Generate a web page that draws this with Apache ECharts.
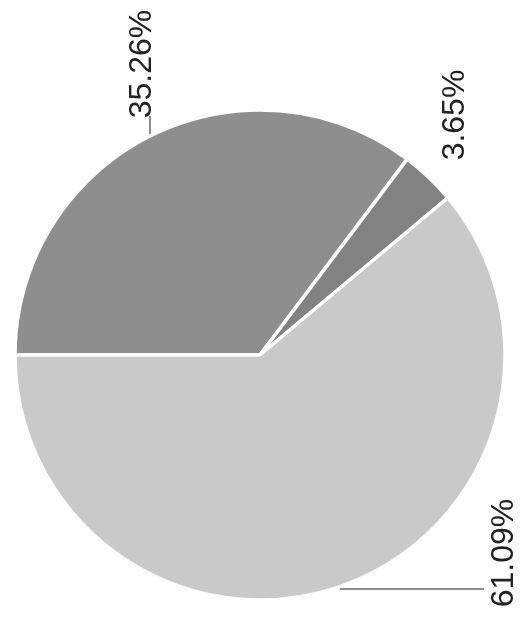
<!DOCTYPE html>
<html>
<head>
<meta charset="utf-8">
<script src="https://cdn.jsdelivr.net/npm/echarts@6/dist/echarts.min.js"></script>
<style>
  html, body { margin: 0; padding: 0; background: #fff; }
  #chart { width: 523px; height: 625px; }
</style>
</head>
<body>
<div id="chart"></div>
<script>
const names = ['A', 'B', 'C'];
const values = [35.26, 3.65, 61.09];
const colors = ['#8e8e8e', '#828282', '#c9c9c9'];

// where each rotated label sits, and its leader line
const labelSpots = [
    { x: 142, y: 64, line: [[150, 136], [150, 125], [150, 116]] },
    { x: 455, y: 115, line: null },
    { x: 504, y: 553, line: [[340, 589], [420, 589], [484, 589]] }
];

const myChart = echarts.init(document.getElementById('chart'));

const option = {
    animation: false,
    series: [
        {
            type: 'pie',
            center: [260, 355],
            radius: 245,
            startAngle: 180,
            clockwise: true,
            data: values.map((v, i) => ({
                name: names[i],
                value: v,
                itemStyle: { color: colors[i] },
                labelLine: { show: labelSpots[i].line !== null }
            })),
            itemStyle: {
                borderColor: '#fff',
                borderWidth: 3.5
            },
            label: {
                show: true,
                position: 'outside',
                rotate: 90,
                formatter: (p) => p.value.toFixed(2) + '%',
                color: '#222',
                fontSize: 32,
                fontFamily: '"Liberation Sans", Arial, sans-serif',
                fontWeight: 'normal'
            },
            labelLine: {
                show: true,
                lineStyle: { color: '#666', width: 1.5 }
            },
            labelLayout: (params) => {
                const s = labelSpots[params.dataIndex];
                const out = {
                    x: s.x,
                    y: s.y,
                    align: 'center',
                    verticalAlign: 'middle'
                };
                if (s.line) out.labelLinePoints = s.line;
                return out;
            }
        }
    ]
};

myChart.setOption(option);
</script>
</body>
</html>
